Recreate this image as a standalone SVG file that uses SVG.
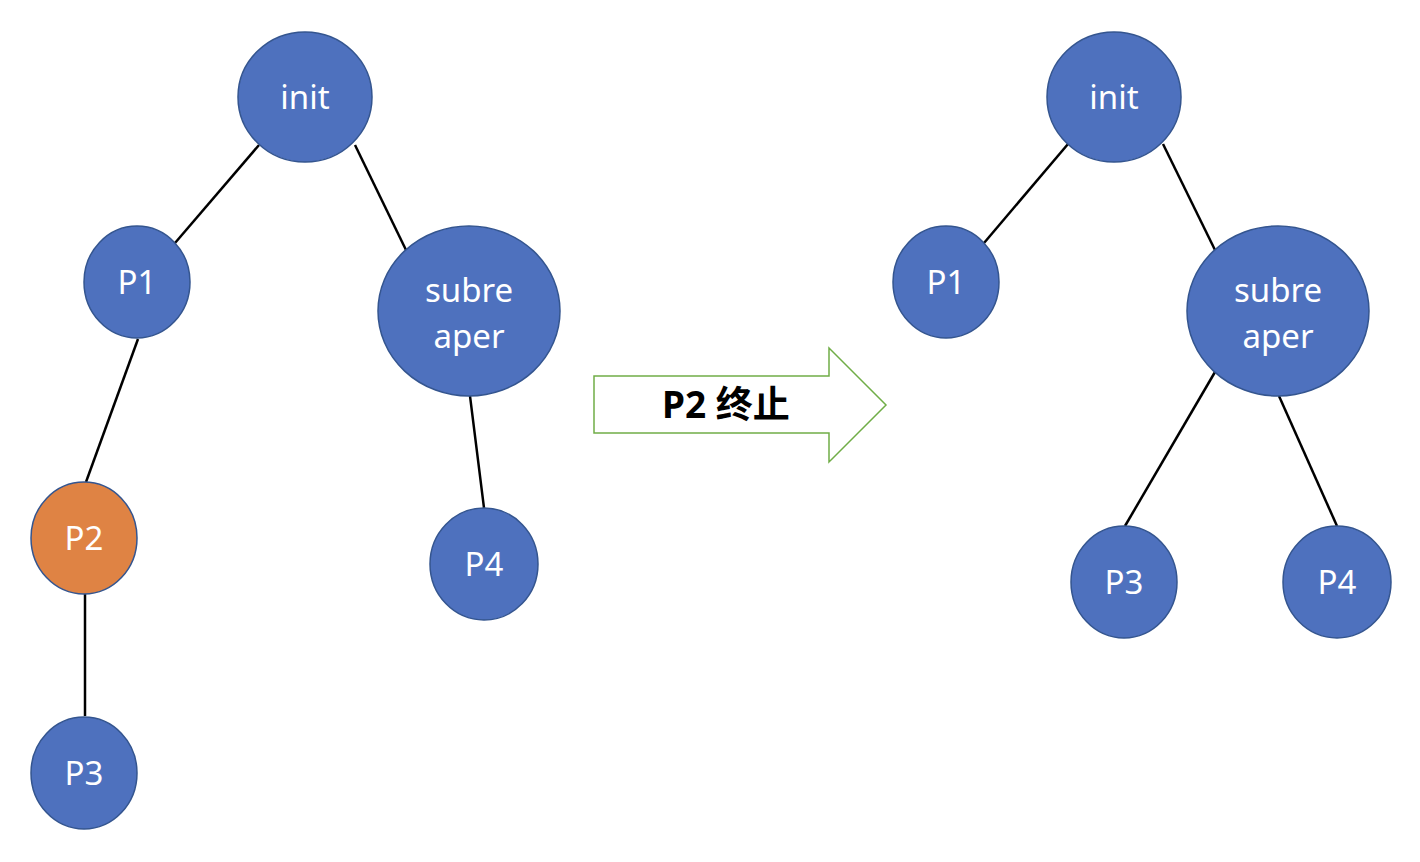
<svg xmlns="http://www.w3.org/2000/svg" width="1420" height="862" viewBox="0 0 1420 862">
<style>
.n{fill:#4E71BE;stroke:#34558F;stroke-width:1.5}
.o{fill:#DF8344;stroke:#34558F;stroke-width:1.5}
.t{fill:#FFFFFF;font-family:"Noto Sans","Liberation Sans",sans-serif;font-size:33px;text-anchor:middle}
.e{stroke:#000;stroke-width:2.5;fill:none}
.lbl{fill:#000;font-family:"Noto Sans","Noto Sans CJK SC",sans-serif;font-size:37px;font-weight:bold;text-anchor:middle}
</style>
<rect width="1420" height="862" fill="#FFFFFF"/>
<g id="connectors">
<line class="e" x1="259" y1="145" x2="175" y2="243"/>
<line class="e" x1="355" y1="145" x2="406" y2="250"/>
<line class="e" x1="138" y1="339" x2="86" y2="482"/>
<line class="e" x1="470" y1="396" x2="484" y2="508"/>
<line class="e" x1="85" y1="594" x2="85" y2="716"/>
<line class="e" x1="1068" y1="144" x2="984" y2="243"/>
<line class="e" x1="1163" y1="144" x2="1215" y2="250"/>
<line class="e" x1="1215" y1="372" x2="1125" y2="526"/>
<line class="e" x1="1279" y1="396" x2="1337" y2="526"/>
</g>
<g id="L-init"><ellipse class="n" cx="305" cy="97" rx="67" ry="65"/><text class="t" x="305" y="109">init</text></g>
<g id="L-P1"><ellipse class="n" cx="137" cy="282" rx="53" ry="56"/><text class="t" x="137" y="294">P1</text></g>
<g id="L-subreaper"><ellipse class="n" cx="469" cy="311" rx="91" ry="85"/><text class="t" x="469" y="302">subre</text><text class="t" x="469" y="348">aper</text></g>
<g id="L-P2"><ellipse class="o" cx="84" cy="538" rx="53" ry="56"/><text class="t" x="84" y="550">P2</text></g>
<g id="L-P4"><ellipse class="n" cx="484" cy="564" rx="54" ry="56"/><text class="t" x="484" y="576">P4</text></g>
<g id="L-P3"><ellipse class="n" cx="84" cy="773" rx="53" ry="56"/><text class="t" x="84" y="785">P3</text></g>
<g id="arrow"><polygon points="594,376 829,376 829,348 886,405 829,462 829,433 594,433" fill="#FFFFFF" stroke="#70AD47" stroke-width="1.5"/><text class="lbl" x="726" y="418">P2 终止</text></g>
<g id="R-init"><ellipse class="n" cx="1114" cy="97" rx="67" ry="65"/><text class="t" x="1114" y="109">init</text></g>
<g id="R-P1"><ellipse class="n" cx="946" cy="282" rx="53" ry="56"/><text class="t" x="946" y="294">P1</text></g>
<g id="R-subreaper"><ellipse class="n" cx="1278" cy="311" rx="91" ry="85"/><text class="t" x="1278" y="302">subre</text><text class="t" x="1278" y="348">aper</text></g>
<g id="R-P3"><ellipse class="n" cx="1124" cy="582" rx="53" ry="56"/><text class="t" x="1124" y="594">P3</text></g>
<g id="R-P4"><ellipse class="n" cx="1337" cy="582" rx="54" ry="56"/><text class="t" x="1337" y="594">P4</text></g>
</svg>
